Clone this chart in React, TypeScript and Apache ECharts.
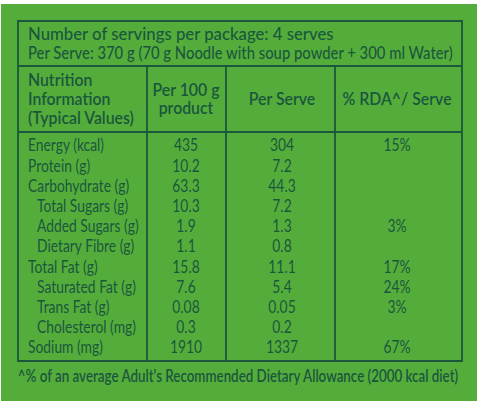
import React, { useEffect, useRef } from "react";
import * as echarts from "echarts";

const headerLines = [
  "Number of servings per package: 4 serves",
  "Per Serve: 370 g (70 g Noodle with soup powder + 300 ml Water)",
];
const headerScales = [0.93, 0.824];
const colHeaders = [
  ["Nutrition", "Information", "(Typical Values)"],
  ["Per 100 g", "product"],
  ["Per Serve"],
  ["% RDA^/ Serve"],
];
const nutrients = [
  "Energy (kcal)",
  "Protein (g)",
  "Carbohydrate (g)",
  "Total Sugars (g)",
  "Added Sugars (g)",
  "Dietary Fibre (g)",
  "Total Fat (g)",
  "Saturated Fat (g)",
  "Trans Fat (g)",
  "Cholesterol (mg)",
  "Sodium (mg)",
];
const indented = [false, false, false, true, true, true, false, true, true, true, false];
const per100g = ["435", "10.2", "63.3", "10.3", "1.9", "1.1", "15.8", "7.6", "0.08", "0.3", "1910"];
const perServe = ["304", "7.2", "44.3", "7.2", "1.3", "0.8", "11.1", "5.4", "0.05", "0.2", "1337"];
const rda = ["15%", "", "", "", "3%", "", "17%", "24%", "3%", "", "67%"];
const footnote = "^% of an average Adult's Recommended Dietary Allowance (2000 kcal diet)";

const INK = "#1b573d";
const BG = "#54ad3b";
const FONT = "Lato";

export default function App() {
  const ref = useRef<HTMLDivElement>(null);
  useEffect(() => {
    if (!ref.current) return;
    const chart = echarts.init(ref.current, undefined, { renderer: "svg" });
    const L = 18, R = 462, T = 21, B = 361;
    const hLine1 = 66, hLine2 = 132;
    const cols = [L, 147, 226, 335, R];
    const centers = [0, 186, 282, 397];
    const rowY0 = 145, rowStep = 20.2;
    const lw = 1.8;
    const els: any[] = [];
    els.push({ type: "rect", shape: { x: 1, y: 4, width: 476, height: 397 }, style: { fill: BG } });
    els.push({ type: "rect", shape: { x: L, y: T, width: R - L, height: B - T }, style: { fill: "none", stroke: INK, lineWidth: lw } });
    els.push({ type: "line", shape: { x1: L, y1: hLine1, x2: R, y2: hLine1 }, style: { stroke: INK, lineWidth: lw } });
    els.push({ type: "line", shape: { x1: L, y1: hLine2, x2: R, y2: hLine2 }, style: { stroke: INK, lineWidth: lw } });
    for (let i = 1; i < 4; i++) {
      els.push({ type: "line", shape: { x1: cols[i], y1: hLine1, x2: cols[i], y2: B }, style: { stroke: INK, lineWidth: lw } });
    }
    const txt = (s: string, x: number, y: number, size: number, weight: any, align: string, sx: number) => ({
      type: "text",
      x,
      y,
      scaleX: sx,
      style: { text: s, x: 0, y: 0, fill: INK, font: `${weight} ${size}px ${FONT}`, textAlign: align, textVerticalAlign: "middle" },
    });
    headerLines.forEach((s, i) => els.push(txt(s, 28, 33 + i * 19, 18, 500, "left", headerScales[i])));
    const HS = 18, HX = 0.88;
    colHeaders[0].forEach((s, i) => els.push(txt(s, 28, 79 + i * 19, HS, 600, "left", HX)));
    colHeaders[1].forEach((s, i) => els.push(txt(s, centers[1], 89 + i * 18, HS, 600, "center", HX)));
    els.push(txt(colHeaders[2][0], centers[2], 98, HS, 600, "center", HX));
    els.push(txt(colHeaders[3][0], centers[3], 98, HS, 600, "center", HX));
    const DS = 16.5, DX = 0.84;
    nutrients.forEach((s, i) => {
      const y = rowY0 + i * rowStep;
      els.push(txt(s, indented[i] ? 37 : 28, y, DS, 400, "left", DX));
      els.push(txt(per100g[i], centers[1], y, DS, 400, "center", DX));
      els.push(txt(perServe[i], centers[2], y, DS, 400, "center", DX));
      if (rda[i]) els.push(txt(rda[i], centers[3], y, DS, 400, "center", DX));
    });
    els.push(txt(footnote, 238, 375, 16.5, 600, "center", 0.81));
    chart.setOption({ animation: false, graphic: { elements: els } });
    return () => chart.dispose();
  }, []);
  return <div ref={ref} style={{ position: "absolute", left: 0, top: 0, width: 480, height: 405, background: "#ffffff" }} />;
}
